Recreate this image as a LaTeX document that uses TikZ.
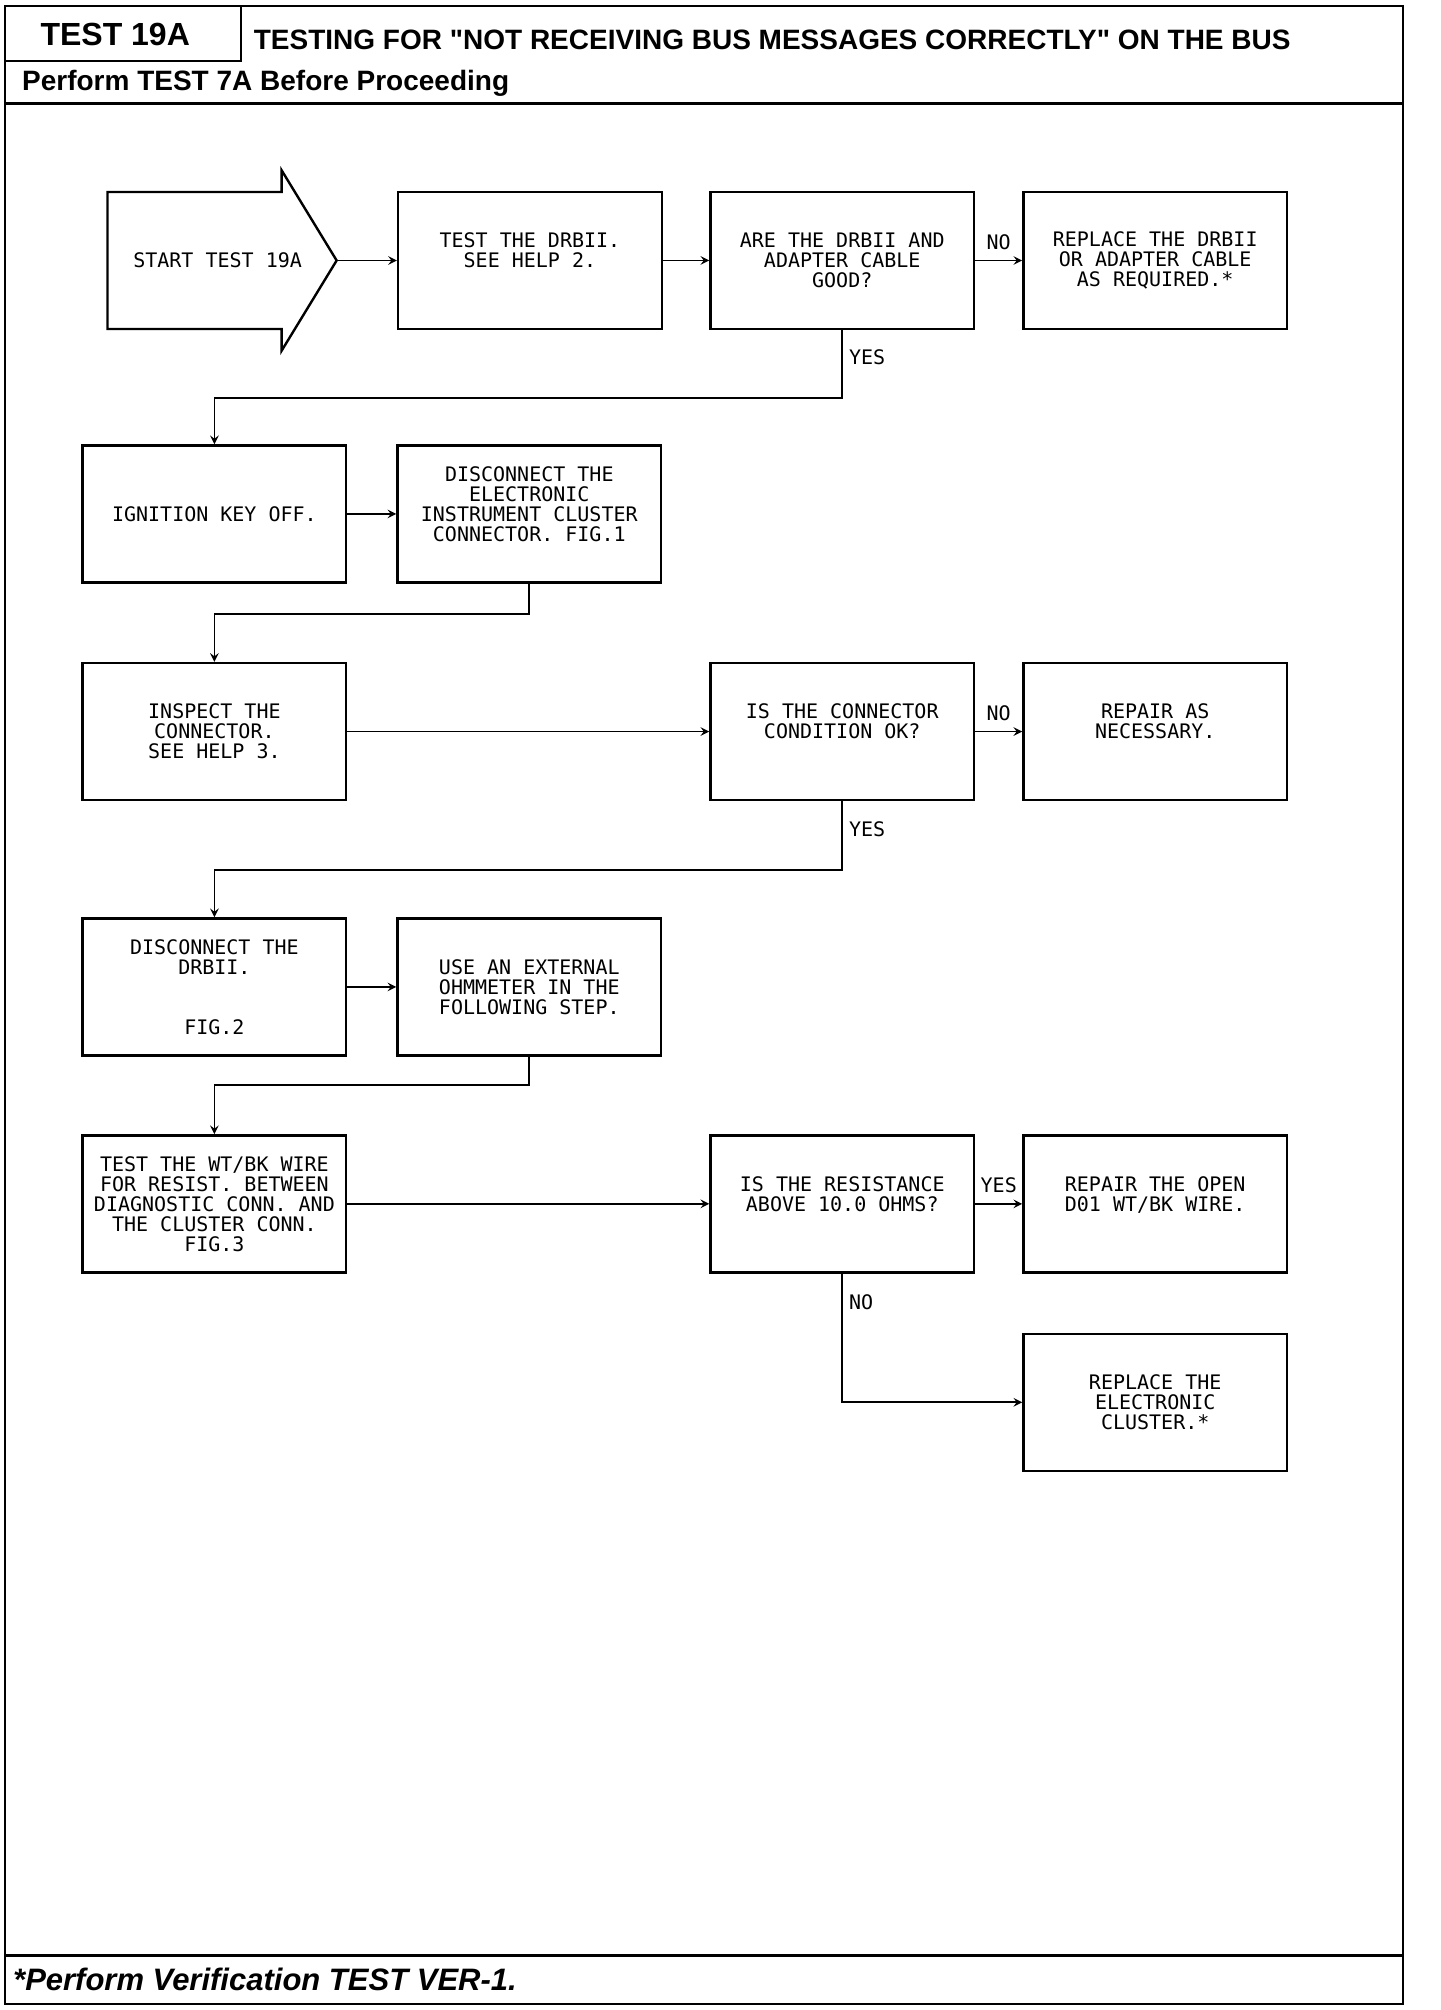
\documentclass[tikz,border=0pt]{standalone}
\usepackage{fontspec}
\setmainfont{Liberation Sans}
\newfontfamily\plotfont{DejaVu Sans Mono}
\begin{document}
\begin{tikzpicture}[x=0.64pt, y=-0.64pt,
  box/.style={draw, line width=1.2pt, minimum width=131.8pt, minimum height=68.5pt, inner sep=0pt, align=center, font=\plotfont\fontsize{10}{10}\selectfont},
  link/.style={>=stealth, ->, line width=0.9pt},
  tag/.style={font=\plotfont\fontsize{10}{10}\selectfont, inner sep=3pt}]
\useasboundingbox (0,0) rectangle (1125,1570.3);
\draw [line width=1pt] (4,5) rectangle (1096,1565.6);
\draw [line width=1pt] (4,5) rectangle (188,48);
\draw [line width=1.6pt] (4,81) -- (1096,81);
\draw [line width=1.6pt] (4,1528) -- (1096,1528);
\node [inner sep=0pt, font=\bfseries\fontsize{16}{18}\selectfont] (testno) at (90,27) {TEST 19A};
\node [anchor=west, inner sep=0pt, font=\bfseries\fontsize{14}{16}\selectfont] (title) at (198,31) {TESTING FOR \textquotedbl NOT RECEIVING BUS MESSAGES CORRECTLY\textquotedbl{} ON THE BUS};
\node [anchor=west, inner sep=0pt, font=\bfseries\fontsize{14}{16}\selectfont] (before) at (17,65) {Perform TEST 7A Before Proceeding};
\node [anchor=west, inner sep=0pt, font=\bfseries\itshape\fontsize{15.5}{18}\selectfont] (verify) at (10,1546) {*Perform Verification TEST VER-1.};
\draw [line width=1.2pt] (84,150) -- (220,150) -- (220,133) -- (263,203.5) -- (220,274) -- (220,257) -- (84,257) -- cycle;
\node [tag] (start) at (170,203.5) {START TEST 19A};
\coordinate (tip) at (263,203.5);
\node [box] (test) at (414,203.5) {TEST THE DRBII.\\SEE HELP 2.\\\mbox{}};
\node [box] (check1) at (658,203.5) {ARE THE DRBII AND\\ADAPTER CABLE\\GOOD?};
\node [box] (replace1) at (902.5,203.5) {REPLACE THE DRBII\\OR ADAPTER CABLE\\AS REQUIRED.*};
\node [box] (keyoff) at (167.5,401.5) {IGNITION KEY OFF.};
\node [box] (unplug1) at (413.5,401.5) {DISCONNECT THE\\ELECTRONIC\\INSTRUMENT CLUSTER\\CONNECTOR. FIG.1\\\mbox{}};
\node [box] (inspect) at (167.5,571.5) {INSPECT THE\\CONNECTOR.\\SEE HELP 3.};
\node [box] (check2) at (658,571.5) {IS THE CONNECTOR\\CONDITION OK?\\\mbox{}};
\node [box] (repair1) at (902.5,571.5) {REPAIR AS\\NECESSARY.\\\mbox{}};
\node [box] (unplug2) at (167.5,771) {DISCONNECT THE\\DRBII.\\\mbox{}\\\mbox{}\\FIG.2};
\node [box] (ohm) at (413.5,771) {USE AN EXTERNAL\\OHMMETER IN THE\\FOLLOWING STEP.};
\node [box] (wire) at (167.5,940.5) {TEST THE WT/BK WIRE\\FOR RESIST. BETWEEN\\DIAGNOSTIC CONN. AND\\THE CLUSTER CONN.\\FIG.3};
\node [box] (check3) at (658,940.5) {IS THE RESISTANCE\\ABOVE 10.0 OHMS?\\\mbox{}};
\node [box] (repair2) at (902.5,940.5) {REPAIR THE OPEN\\D01 WT/BK WIRE.\\\mbox{}};
\node [box] (replace2) at (902.5,1095.5) {REPLACE THE\\ELECTRONIC\\CLUSTER.*};
\draw [link] (tip) -- (test);
\draw [link] (test) -- (check1);
\draw [link] (check1) -- node [tag, above=2pt] (no1) {NO} (replace1);
\draw [link] (check1.south) -- node [tag, right, pos=0.4] (yes1) {YES} ++(0,53) -| (keyoff.north);
\draw [link] (keyoff) -- (unplug1);
\draw [link] (unplug1.south) -- ++(0,24) -| (inspect.north);
\draw [link] (inspect) -- (check2);
\draw [link] (check2) -- node [tag, above=2pt] (no2) {NO} (repair1);
\draw [link] (check2.south) -- node [tag, right, pos=0.4] (yes2) {YES} ++(0,54) -| (unplug2.north);
\draw [link] (unplug2) -- (ohm);
\draw [link] (ohm.south) -- ++(0,22) -| (wire.north);
\draw [link] (wire) -- (check3);
\draw [link] (check3) -- node [tag, above=2pt] (yes3) {YES} (repair2);
\draw [link] (check3.south) |- node [tag, right, pos=0.11] (no3) {NO} (replace2.west);
\end{tikzpicture}
\end{document}
